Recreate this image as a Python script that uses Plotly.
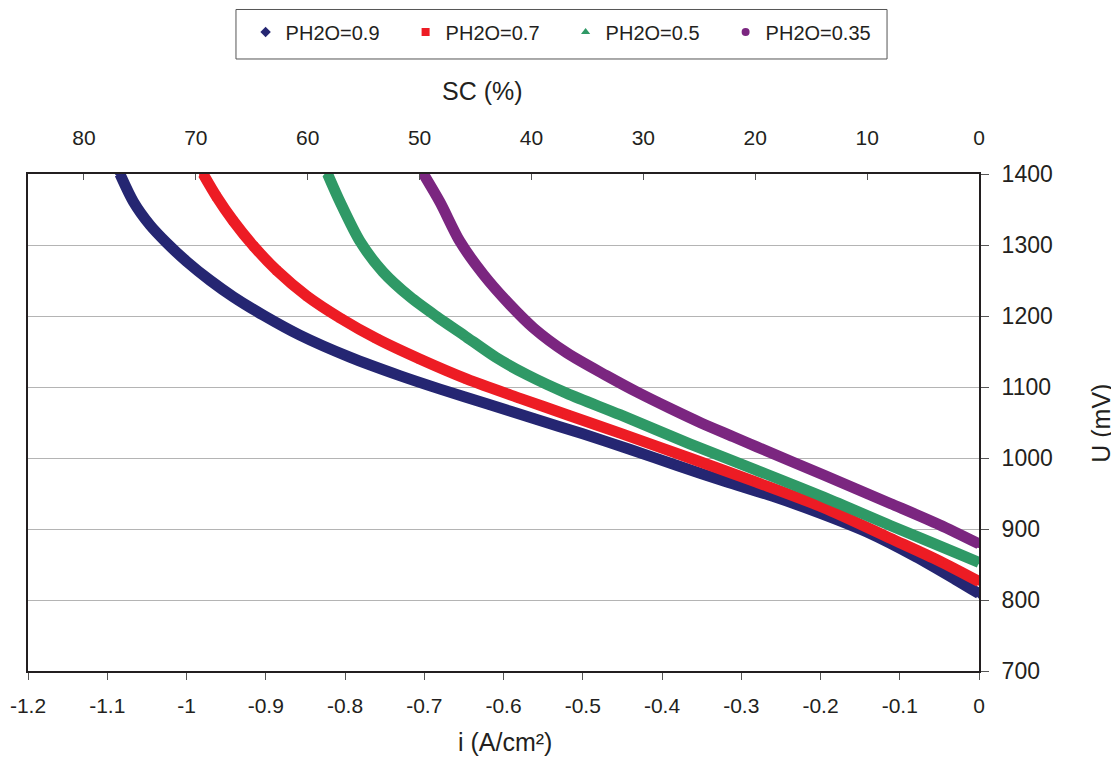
import plotly.graph_objects as go

# ---- data ----
i_09 = [-1.084, -1.067, -1.046, -1.025, -1.000, -0.970, -0.941, -0.903, -0.857, -0.794, -0.731, -0.680,
        -0.620, -0.560, -0.500, -0.440, -0.380, -0.320, -0.260, -0.200, -0.140, -0.080, -0.030, 0.0]
u_09 = [1400, 1361, 1328, 1303, 1277, 1250, 1227, 1201, 1173, 1142, 1116, 1097,
        1076, 1055, 1034, 1012, 989, 967, 946, 922, 895, 861, 829, 809]

i_07 = [-0.979, -0.962, -0.941, -0.915, -0.886, -0.848, -0.806, -0.760, -0.705, -0.646, -0.579, -0.520,
        -0.453, -0.365, -0.281, -0.196, -0.112, -0.050, 0.0]
u_07 = [1400, 1368, 1334, 1298, 1264, 1228, 1197, 1168, 1139, 1111, 1084, 1061,
        1035, 1000, 966, 930, 887, 855, 826]

i_05 = [-0.822, -0.806, -0.781, -0.752, -0.718, -0.684, -0.650, -0.610, -0.570, -0.520, -0.453,
        -0.365, -0.281, -0.196, -0.112, -0.028, 0.0]
u_05 = [1400, 1360, 1305, 1262, 1227, 1199, 1173, 1142, 1117, 1091, 1061,
        1020, 983, 945, 905, 866, 853]

i_035 = [-0.701, -0.680, -0.655, -0.625, -0.592, -0.562, -0.520, -0.470, -0.430, -0.390, -0.350,
         -0.310, -0.281, -0.196, -0.112, -0.050, 0.0]
u_035 = [1400, 1360, 1305, 1258, 1216, 1183, 1148, 1116, 1092, 1070, 1049,
         1030, 1016, 976, 936, 906, 879]

series_names = ["PH2O=0.9", "PH2O=0.7", "PH2O=0.5", "PH2O=0.35"]
series_colors = ["#252672", "#ed1c24", "#2f9966", "#7b2680"]
series_symbols = ["diamond", "square", "triangle-up", "circle"]

x_tickvals = [-1.2, -1.1, -1.0, -0.9, -0.8, -0.7, -0.6, -0.5, -0.4, -0.3, -0.2, -0.1, 0.0]
x_ticktext = ["-1.2", "-1.1", "-1", "-0.9", "-0.8", "-0.7", "-0.6", "-0.5", "-0.4", "-0.3", "-0.2", "-0.1", "0"]
sc_tickvals = [80, 70, 60, 50, 40, 30, 20, 10, 0]
sc_range = [85, 0]
u_range = [700, 1400]

FONT = "Liberation Sans, Arial, sans-serif"
TXT = "#231f20"

fig = go.Figure()
data = [(i_09, u_09), (i_07, u_07), (i_05, u_05), (i_035, u_035)]
for (xs, ys), name, col, sym in zip(data, series_names, series_colors, series_symbols):
    fig.add_trace(go.Scatter(x=xs, y=ys, mode="lines", line=dict(color=col, width=11, shape="spline", smoothing=0.8),
                             showlegend=False, legendgroup=name, hoverinfo="skip"))
    fig.add_trace(go.Scatter(x=xs, y=ys, mode="markers", name=name, legendgroup=name,
                             marker=dict(color=col, symbol=sym, size=8, line=dict(width=0))))

# invisible trace to anchor the top SC axis
fig.add_trace(go.Scatter(x=[sc_range[0], sc_range[1]], y=[u_range[0], u_range[0]], xaxis="x2", mode="markers",
                         marker=dict(opacity=0), showlegend=False, hoverinfo="skip"))

fig.update_layout(
    width=1111, height=752,
    margin=dict(l=20, r=140, t=166, b=89, autoexpand=False),
    paper_bgcolor="white", plot_bgcolor="white",
    font=dict(family=FONT, color=TXT, size=21),
    xaxis=dict(range=[-1.2, 0], tickvals=x_tickvals, ticktext=x_ticktext, showgrid=False, zeroline=False,
               showline=True, mirror=True, linecolor="#231f20", linewidth=2,
               ticks="outside", ticklen=7, tickcolor="#555", tickwidth=1,
               tickfont=dict(size=21), ticklabelstandoff=8),
    xaxis2=dict(range=sc_range, overlaying="x", side="top", tickvals=sc_tickvals, showgrid=False, zeroline=False,
                showline=False, ticks="inside", ticklen=6, tickcolor="#555", tickwidth=1,
                tickfont=dict(size=21), ticklabelstandoff=24),
    yaxis=dict(range=u_range, side="right", dtick=100, showgrid=True, gridcolor="#b4b4b4", gridwidth=1,
               zeroline=False, showline=True, mirror=True, linecolor="#231f20", linewidth=2,
               ticks="outside", ticklen=8, tickcolor="#555", tickwidth=1,
               tickfont=dict(size=23), ticklabelstandoff=8),
    legend=dict(orientation="h", x=0.5653, xanchor="center", y=1.2857, yanchor="middle",
                borderwidth=0, bgcolor="rgba(0,0,0,0)",
                font=dict(size=20, family=FONT, color=TXT), entrywidth=115, entrywidthmode="pixels",
                itemsizing="trace"),
    shapes=[dict(type="rect", xref="paper", yref="paper", x0=0.2187, x1=0.9033, y0=1.2314, y1=1.331,
                 line=dict(color="#555", width=1), fillcolor="rgba(0,0,0,0)", layer="below")],
    annotations=[
        dict(text="i (A/cm²)", x=0.5016, y=-0.143, xref="paper", yref="paper", showarrow=False,
             xanchor="center", yanchor="middle", font=dict(size=25)),
        dict(text="SC (%)", x=0.478, y=1.167, xref="paper", yref="paper", showarrow=False,
             xanchor="center", yanchor="middle", font=dict(size=25)),
        dict(text="U (mV)", x=1.128, y=0.499, xref="paper", yref="paper", showarrow=False, textangle=-90,
             xanchor="center", yanchor="middle", font=dict(size=25)),
    ],
)

fig.write_html("out.html")
